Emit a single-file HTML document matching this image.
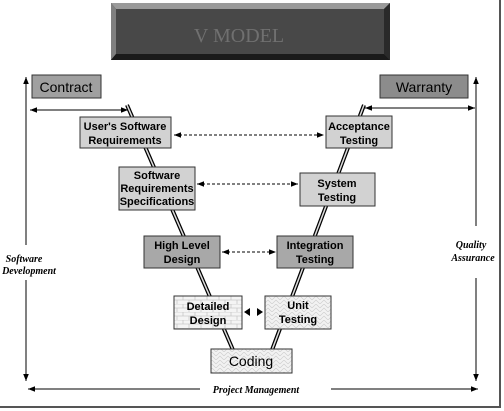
<!DOCTYPE html>
<html><head><style>
body{margin:0;background:#fff;}
svg{display:block;font-family:"Liberation Sans",sans-serif;}
</style></head><body>
<svg width="504" height="411" viewBox="0 0 504 411" xmlns="http://www.w3.org/2000/svg">
<defs>
<marker id="a" viewBox="0 0 10 10" refX="10" refY="5" markerWidth="7" markerHeight="7" orient="auto-start-reverse"><path d="M0,1 L10,5 L0,9z" fill="#000"/></marker>
<pattern id="brick" width="12" height="8" patternUnits="userSpaceOnUse"><rect width="12" height="8" fill="#f4f4f4"/><path d="M0,0H12M0,4H12M3,0V4M9,4V8" stroke="#c8c8c8" stroke-width="0.8"/></pattern>
<pattern id="wave" width="8" height="8" patternUnits="userSpaceOnUse"><rect width="8" height="8" fill="#f2f2f2"/><path d="M0,4L4,0L8,4M0,8L4,4L8,8" stroke="#cfcfcf" stroke-width="0.7" fill="none"/></pattern>
</defs>
<!-- frame -->
<line x1="500" y1="0" x2="500" y2="408" stroke="#555" stroke-width="2"/>
<line x1="0" y1="407" x2="501" y2="407" stroke="#555" stroke-width="2"/>
<!-- title -->
<rect x="111" y="3" width="279" height="57" fill="#3c3c3c"/>
<polygon points="111,3 390,3 384,9 116,9" fill="#9a9a9a"/>
<polygon points="111,3 116,9 116,54 111,60" fill="#808080"/>
<polygon points="111,60 116,54 384,54 390,60" fill="#1a1a1a"/>
<polygon points="390,3 384,9 384,54 390,60" fill="#2a2a2a"/>
<rect x="116" y="9" width="268" height="45" fill="#484848"/>
<text x="239" y="42" text-anchor="middle" font-family="Liberation Serif,serif" font-size="20" fill="#707070">V MODEL</text>
<!-- contract/warranty -->
<rect x="32" y="75" width="69" height="23" fill="#a0a0a0" stroke="#333"/>
<text x="66" y="92" text-anchor="middle" font-size="14">Contract</text>
<rect x="380" y="75" width="88" height="23" fill="#8c8c8c" stroke="#333"/>
<text x="424" y="92" text-anchor="middle" font-size="14">Warranty</text>
<!-- verticals -->
<g stroke="#000" stroke-width="1">
<line x1="26" y1="245" x2="26" y2="77" marker-end="url(#a)"/>
<line x1="26" y1="280" x2="26" y2="381" marker-end="url(#a)"/>
<line x1="476" y1="226" x2="476" y2="77" marker-end="url(#a)"/>
<line x1="476" y1="278" x2="476" y2="381" marker-end="url(#a)"/>
<line x1="30" y1="110" x2="128" y2="110" marker-start="url(#a)" marker-end="url(#a)"/>
<line x1="365" y1="108" x2="475" y2="108" marker-start="url(#a)" marker-end="url(#a)"/>
<line x1="28" y1="389" x2="200" y2="389" marker-start="url(#a)"/>
<line x1="331" y1="389" x2="478" y2="389" marker-end="url(#a)"/>
</g>
<g font-family="Liberation Serif,serif" font-style="italic" font-weight="bold" font-size="10" text-anchor="middle">
<text x="24" y="262">Software</text><text x="29" y="274">Development</text>
<text x="471" y="248">Quality</text><text x="473" y="261">Assurance</text>
<text x="256" y="393">Project Management</text>
</g>
<!-- V lines -->
<g stroke="#000" stroke-width="4"><line x1="127" y1="105" x2="233" y2="350"/><line x1="364" y1="105" x2="272" y2="350"/></g>
<g stroke="#ddd" stroke-width="1.5"><line x1="127" y1="105" x2="233" y2="350"/><line x1="364" y1="105" x2="272" y2="350"/></g>
<!-- dashed -->
<g stroke="#000" stroke-dasharray="3,2">
<line x1="174" y1="135" x2="324" y2="135" marker-start="url(#a)" marker-end="url(#a)"/>
<line x1="197" y1="184" x2="298" y2="184" marker-start="url(#a)" marker-end="url(#a)"/>
<line x1="222" y1="252" x2="276" y2="252" marker-start="url(#a)" marker-end="url(#a)"/>
</g>
<path d="M244,312 L250,308 L250,316z M263,312 L257,308 L257,316z" fill="#000"/>
<!-- boxes -->
<g stroke="#333" stroke-width="1">
<rect x="80" y="117" width="91" height="31" fill="#d2d2d2"/>
<rect x="326" y="116" width="66" height="32" fill="#d2d2d2"/>
<rect x="119" y="167" width="76" height="43" fill="#d2d2d2"/>
<rect x="300" y="173" width="75" height="33" fill="#d2d2d2"/>
<rect x="144" y="236" width="76" height="32" fill="#a8a8a8"/>
<rect x="277" y="236" width="76" height="32" fill="#a8a8a8"/>
<rect x="174" y="296" width="68" height="33" fill="url(#brick)"/>
<rect x="265" y="296" width="66" height="33" fill="url(#wave)"/>
<rect x="211" y="349" width="81" height="24" fill="url(#wave)"/>
</g>
<g font-weight="bold" font-size="11" text-anchor="middle">
<text x="125" y="130">User's Software</text><text x="125" y="144">Requirements</text>
<text x="359" y="130">Acceptance</text><text x="359" y="144">Testing</text>
<text x="157" y="179">Software</text><text x="157" y="192">Requirements</text><text x="157" y="205">Specifications</text>
<text x="337" y="187">System</text><text x="337" y="201">Testing</text>
<text x="182" y="249">High Level</text><text x="182" y="263">Design</text>
<text x="315" y="249">Integration</text><text x="315" y="263">Testing</text>
<text x="208" y="310">Detailed</text><text x="208" y="324">Design</text>
<text x="298" y="309">Unit</text><text x="298" y="323">Testing</text>
</g>
<text x="251" y="366" text-anchor="middle" font-size="14">Coding</text>
</svg>
</body></html>
